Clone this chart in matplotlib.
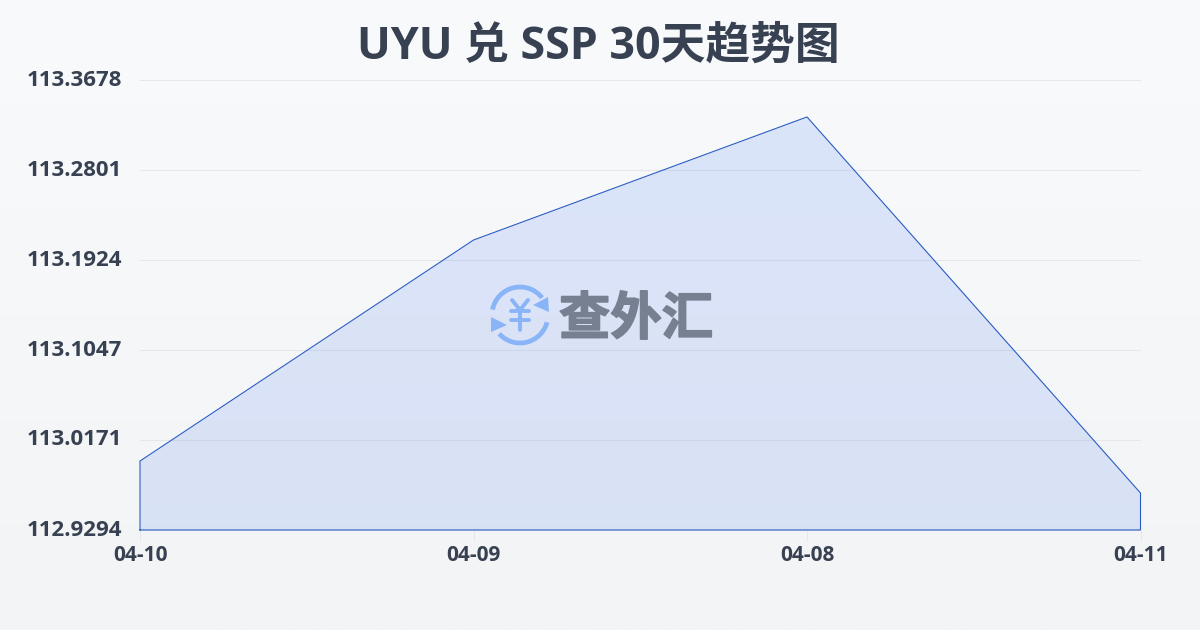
import numpy as np
import matplotlib
matplotlib.use('Agg')
import matplotlib.pyplot as plt
import matplotlib.patheffects as pe
from matplotlib.patches import Arc, Polygon

plt.rcParams['font.family'] = ['Open Sans', 'Noto Sans CJK SC', 'DejaVu Sans']

dates = ['04-10', '04-09', '04-08', '04-11']
rates = [112.9966, 113.2119, 113.3318, 112.9654]
y_ticks = [112.9294, 113.0171, 113.1047, 113.1924, 113.2801, 113.3678]
y_labels = ['112.9294', '113.0171', '113.1047', '113.1924', '113.2801', '113.3678']

W, H = 1200, 630
fig = plt.figure(figsize=(12, 6.3), dpi=100)

# background gradient
bg = fig.add_axes([0, 0, 1, 1], zorder=0)
grad = np.linspace(0, 1, 256).reshape(-1, 1, 1)
top = np.array([0xf8, 0xfa, 0xfc]) / 255
bottom = np.array([0xf3, 0xf4, 0xf6]) / 255
bg.imshow(top + (bottom - top) * grad, aspect='auto', extent=[0, W, H, 0])
bg.set_xlim(0, W)
bg.set_ylim(H, 0)
bg.axis('off')

ax = fig.add_axes([140 / W, 1 - 530 / H, 1000.5 / W, 450 / H], zorder=1)
ax.patch.set_alpha(0)
x = np.arange(len(dates))
ax.fill_between(x, rates, y_ticks[0], color='#2563eb', alpha=0.13, lw=0)
ax.plot(list(x[:1]) + list(x) + list(x[-1:]) + list(x[:1]),
        [y_ticks[0]] + rates + [y_ticks[0], y_ticks[0]],
        color='#2a5cc4', lw=0.8, solid_joinstyle='miter', clip_on=False)
ax.set_xlim(0, len(dates) - 1)
ax.set_ylim(y_ticks[0], y_ticks[-1])
ax.set_yticks(y_ticks)
ax.set_yticklabels(y_labels, va='center', ha='center')
ax.set_xticks(x)
ax.set_xticklabels(dates)
ax.grid(axis='y', color='#e5e7eb', lw=0.8)
ax.set_axisbelow(True)
for s in ax.spines.values():
    s.set_visible(False)
ax.tick_params(axis='y', length=0, pad=47, labelsize=16, labelcolor='#374151')
ax.tick_params(axis='x', length=8, width=0.7, color='#e5e7eb', pad=2.5, labelsize=15, labelcolor='#374151')
for lab in ax.get_yticklabels() + ax.get_xticklabels():
    lab.set_fontweight('bold')

fig.text(598 / W, 1 - 47 / H, 'UYU 兑 SSP 30天趋势图', ha='center', va='center',
         fontsize=32.2, fontweight='bold', color='#374151', zorder=3)

# watermark logo, on an overlay in pixel coordinates
ov = fig.add_axes([0, 0, 1, 1], zorder=2)
blue = '#8ab4f8'
cx, cy = 520, 315
ov.add_patch(Arc((cx, cy), 56, 56, theta1=191, theta2=322, color=blue, lw=3.4))
ov.add_patch(Arc((cx, cy), 56, 56, theta1=15, theta2=138, color=blue, lw=3.4))
ov.add_patch(Polygon([[548, 297], [549, 312], [533, 305]], color=blue, lw=0))
ov.add_patch(Polygon([[491, 317], [491, 332], [507, 325]], color=blue, lw=0))
for xs, ys in [([512, 520, 528], [300, 310, 300]), ([520, 520], [310, 330]),
               ([511, 529], [311, 311]), ([511, 529], [320, 320])]:
    ov.plot(xs, ys, color=blue, lw=2.8, solid_capstyle='round')
ov.set_xlim(0, W)
ov.set_ylim(H, 0)
ov.axis('off')
ov.text(636, 319, '查外汇', ha='center', va='center', fontsize=37, fontweight='bold',
        color='#778091', family='Noto Sans CJK SC',
        path_effects=[pe.withStroke(linewidth=1.2, foreground='#778091')])

fig.savefig('out.png', dpi=100)
